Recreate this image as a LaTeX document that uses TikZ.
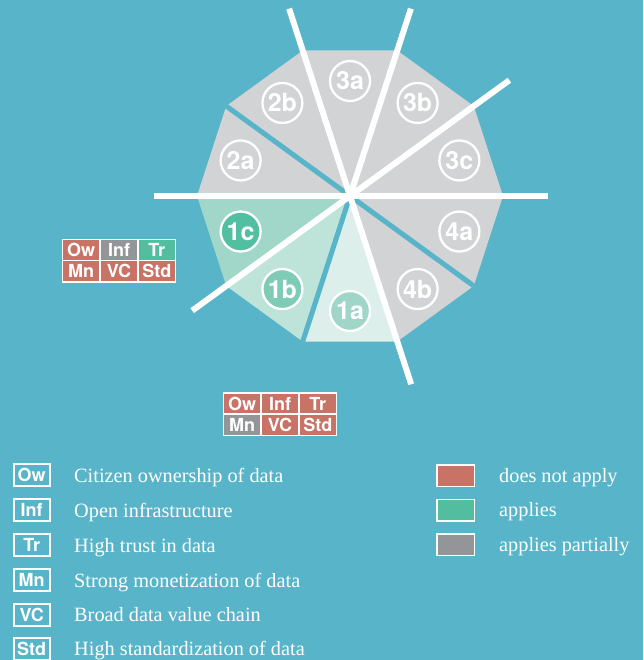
\documentclass[tikz,border=0pt]{standalone}
\usepackage{fontspec}
\setmainfont{Liberation Serif}
\setsansfont{TeX Gyre Heros}
\usetikzlibrary{calc}
\definecolor{bg}{HTML}{58B4C8}
\definecolor{sgrey}{HTML}{D1D3D4}
\definecolor{gA}{HTML}{A1D7C8}
\definecolor{gB}{HTML}{BEE3D9}
\definecolor{gC}{HTML}{DCEFEA}
\definecolor{cA}{HTML}{52BFA2}
\definecolor{cB}{HTML}{7ECCB6}
\definecolor{cC}{HTML}{A0D6C7}
\definecolor{nored}{HTML}{C97266}
\definecolor{yesgreen}{HTML}{52BE9F}
\definecolor{partgrey}{HTML}{939598}
\begin{document}
\begin{tikzpicture}[x=1pt,y=-1pt,
  wline/.style={draw=white, line width=6pt},
  bline/.style={draw=bg, line width=5pt},
  lab/.style={circle, draw=white, line width=2.3pt, minimum size=40pt, inner sep=0pt,
    text=white, font=\sffamily\bfseries\fontsize{25}{25}\selectfont},
  cell/.style={draw=white, line width=1.4pt, minimum width=37.8pt, minimum height=21.3pt,
    inner sep=0pt, text=white, font=\sffamily\bfseries\fontsize{18}{18}\selectfont},
  lbox/.style={draw=white, line width=2pt, minimum width=36pt, minimum height=22pt,
    inner sep=0pt, text=white, font=\sffamily\bfseries\fontsize{18}{18}\selectfont},
  cbox/.style={draw=white, line width=1.5pt, minimum width=37.5pt, minimum height=21.5pt, inner sep=0pt},
  ltext/.style={anchor=base west, inner sep=0pt, text=white, font=\fontsize{20.3}{20.3}\selectfont}
]
\fill[bg] (0,0) rectangle (643,660);
\useasboundingbox (0,0) rectangle (643,660);
\coordinate (O) at (350,196);
\begin{scope}[shift={(O)}]
  \foreach \a/\c in {0/sgrey,36/sgrey,72/sgrey,108/sgrey,144/sgrey,180/gA,216/gB,252/gC,288/sgrey,324/sgrey}{
    \fill[\c] (0,0) -- ({-\a}:153) -- ({-\a-36}:153) -- cycle;
  }
  \coordinate (b1) at (-144:153);
  \coordinate (b2) at (108:153);
  \coordinate (b3) at (36:153);
  \coordinate (w0) at (0:198);
  \coordinate (w180) at (180:196);
  \coordinate (w36) at (-36:197);
  \coordinate (w216) at (144:195);
  \coordinate (w72) at (-72:197);
  \coordinate (w108) at (-108:197);
  \coordinate (w288) at (72:198);
  \node[lab, fill=sgrey] (n3c) at (-18:115) {3c};
  \node[lab, fill=sgrey] (n3b) at (-54:115) {3b};
  \node[lab, fill=sgrey] (n3a) at (-90:115) {3a};
  \node[lab, fill=sgrey] (n2b) at (-126:115) {2b};
  \node[lab, fill=sgrey] (n2a) at (-162:115) {2a};
  \node[lab, fill=cA] (n1c) at (-198:115) {1c};
  \node[lab, fill=cB] (n1b) at (-234:115) {1b};
  \node[lab, fill=cC] (n1a) at (-270:115) {1a};
  \node[lab, fill=sgrey] (n4b) at (-306:115) {4b};
  \node[lab, fill=sgrey] (n4a) at (-342:115) {4a};
\end{scope}
\draw[bline] (O) -- (b1);
\draw[bline] (O) -- (b2);
\draw[bline] (O) -- (b3);
\draw[wline] (w180) -- (w0);
\draw[wline] (w216) -- (w36);
\draw[wline] (w108) -- (w288);
\draw[wline] (O) -- (w72);
% left table
\node[cell, fill=nored] (t1ow) at (81.2,250) {Ow};
\node[cell, fill=partgrey] (t1inf) at (119,250) {Inf};
\node[cell, fill=yesgreen] (t1tr) at (156.8,250) {Tr};
\node[cell, fill=nored] (t1mn) at (81.2,271.2) {Mn};
\node[cell, fill=nored] (t1vc) at (119,271.2) {VC};
\node[cell, fill=nored] (t1std) at (156.8,271.2) {Std};
% bottom table
\node[cell, fill=nored] (t2ow) at (242.2,403.5) {Ow};
\node[cell, fill=nored] (t2inf) at (280,403.5) {Inf};
\node[cell, fill=nored] (t2tr) at (317.8,403.5) {Tr};
\node[cell, fill=partgrey] (t2mn) at (242.2,424.8) {Mn};
\node[cell, fill=nored] (t2vc) at (280,424.8) {VC};
\node[cell, fill=nored] (t2std) at (317.8,424.8) {Std};
% legend left
\node[lbox] (kow) at (31.7,475.3) {Ow};
\node[lbox] (kinf) at (31.7,510) {Inf};
\node[lbox] (ktr) at (31.7,545) {Tr};
\node[lbox] (kmn) at (31.7,580) {Mn};
\node[lbox] (kvc) at (31.7,614.5) {VC};
\node[lbox] (kstd) at (31.7,648.5) {Std};
\node[ltext] (xow) at (74,482.3) {Citizen ownership of data};
\node[ltext] (xinf) at (74,517) {Open infrastructure};
\node[ltext] (xtr) at (74,552) {High trust in data};
\node[ltext] (xmn) at (74,587) {Strong monetization of data};
\node[ltext] (xvc) at (74,621.5) {Broad data value chain};
\node[ltext] (xstd) at (74,655.5) {High standardization of data};
% legend right
\node[cbox, fill=nored] (cno) at (455.5,475.8) {};
\node[cbox, fill=yesgreen] (cyes) at (455.5,510) {};
\node[cbox, fill=partgrey] (cpart) at (455.5,544.5) {};
\node[ltext] (yno) at (499,482.3) {does not apply};
\node[ltext] (yyes) at (499,516.5) {applies};
\node[ltext] (ypart) at (499,551) {applies partially};
\end{tikzpicture}
\end{document}
